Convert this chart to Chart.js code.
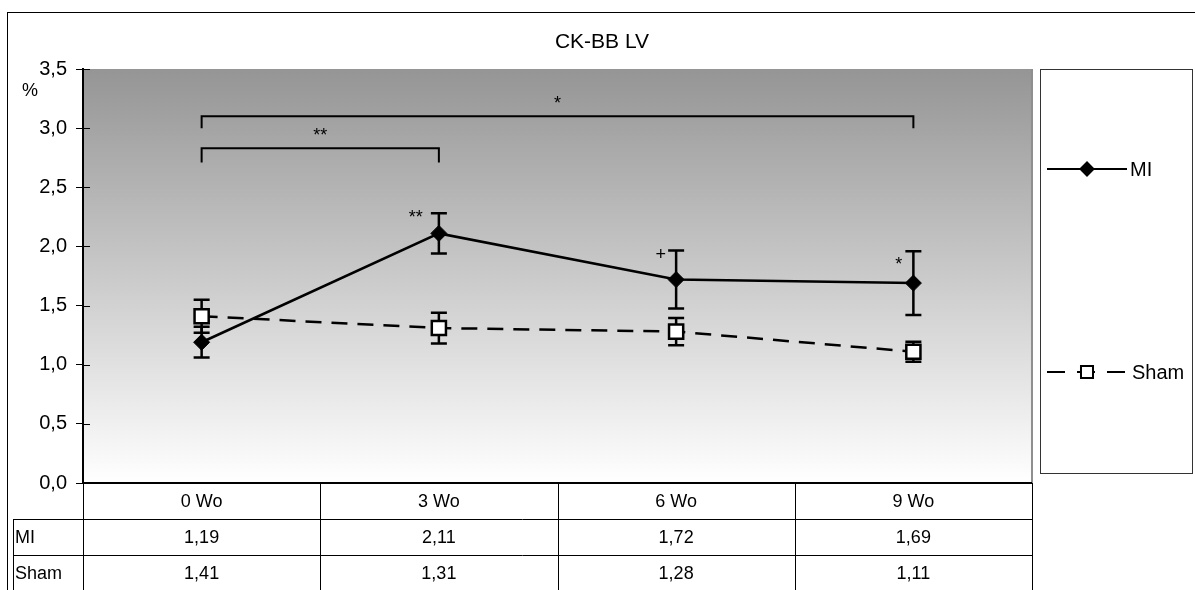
<!DOCTYPE html>
<html><head><meta charset="utf-8">
<script src="https://cdn.jsdelivr.net/npm/chart.js@4/dist/chart.umd.min.js"></script>
<style>html,body{margin:0;padding:0;background:#fff}canvas{display:block}</style>
</head><body>
<canvas id="c" width="1195" height="590"></canvas>
<script>
// ---- data ----
const chartTitle = 'CK-BB LV';
const yUnit = '%';
const categories = ['0 Wo', '3 Wo', '6 Wo', '9 Wo'];
const miValues = [1.19, 2.11, 1.72, 1.69];
const miErrors = [0.13, 0.17, 0.245, 0.27];
const shamValues = [1.41, 1.31, 1.28, 1.11];
const shamErrors = [0.14, 0.13, 0.115, 0.085];
const miSigLabels = ['', '**', '+', '*'];
const bracketFrom = [0, 0];
const bracketTo = [3, 1];
const bracketLevel = [3.10, 2.83];
const bracketFoot = [3.00, 2.71];
const bracketLabels = ['*', '**'];
const yTicks = [0, 0.5, 1, 1.5, 2, 2.5, 3, 3.5];

const FONT = '"Liberation Sans", Arial, sans-serif';
const fmt = (v, d) => v.toFixed(d).replace('.', ',');

const errData = [miErrors, shamErrors];

const decor = {
  id: 'decor',
  beforeDraw(chart) {
    const { ctx, chartArea: a } = chart;
    ctx.save();
    ctx.fillStyle = '#fff';
    ctx.fillRect(0, 0, chart.width, chart.height);
    ctx.strokeStyle = '#000';
    ctx.lineWidth = 1;
    ctx.strokeRect(7.5, 12.5, chart.width + 20, chart.height + 20);
    const g = ctx.createLinearGradient(0, a.top, 0, a.bottom);
    g.addColorStop(0, '#959595');
    g.addColorStop(1, '#ffffff');
    ctx.fillStyle = g;
    ctx.fillRect(a.left, a.top, a.right - a.left, a.bottom - a.top);
    ctx.strokeStyle = '#8f8f8f';
    ctx.lineWidth = 2;
    ctx.beginPath();
    ctx.moveTo(a.right, a.top); ctx.lineTo(a.right, a.bottom);
    ctx.stroke();
    ctx.restore();
  },
  beforeDatasetsDraw(chart) {
    const { ctx } = chart;
    const x = chart.scales.x, y = chart.scales.y;
    ctx.save();
    ctx.strokeStyle = '#000';
    ctx.lineWidth = 2.5;
    chart.data.datasets.forEach((ds, di) => {
      ds.data.forEach((v, i) => {
        const e = errData[di][i];
        const px = x.getPixelForValue(i);
        const yt = y.getPixelForValue(v + e), yb = y.getPixelForValue(v - e);
        ctx.beginPath();
        ctx.moveTo(px, yt); ctx.lineTo(px, yb);
        ctx.moveTo(px - 8, yt); ctx.lineTo(px + 8, yt);
        ctx.moveTo(px - 8, yb); ctx.lineTo(px + 8, yb);
        ctx.stroke();
      });
    });
    ctx.restore();
  },
  afterDraw(chart) {
    const { ctx, chartArea: a } = chart;
    const x = chart.scales.x, y = chart.scales.y;
    ctx.save();
    ctx.fillStyle = '#000';
    ctx.strokeStyle = '#000';
    // title
    ctx.font = '21px ' + FONT;
    ctx.textAlign = 'center';
    ctx.textBaseline = 'middle';
    ctx.fillText(chartTitle, 602, 42);
    // unit
    ctx.font = '18px ' + FONT;
    ctx.textAlign = 'left';
    ctx.fillText(yUnit, 22, 91);
    // inner tick parts
    ctx.lineWidth = 1;
    yTicks.forEach(t => {
      const py = Math.round(y.getPixelForValue(t)) + 0.5;
      ctx.beginPath(); ctx.moveTo(a.left, py); ctx.lineTo(a.left + 7, py); ctx.stroke();
    });
    // x axis line
    ctx.lineWidth = 2;
    ctx.beginPath(); ctx.moveTo(a.left, a.bottom); ctx.lineTo(a.right, a.bottom); ctx.stroke();
    // brackets
    ctx.lineWidth = 2;
    ctx.font = '18px ' + FONT;
    ctx.textAlign = 'center';
    ctx.textBaseline = 'middle';
    bracketFrom.forEach((f, k) => {
      const x1 = x.getPixelForValue(f), x2 = x.getPixelForValue(bracketTo[k]);
      const yl = y.getPixelForValue(bracketLevel[k]), yf = y.getPixelForValue(bracketFoot[k]);
      ctx.beginPath();
      ctx.moveTo(x1, yf); ctx.lineTo(x1, yl); ctx.lineTo(x2, yl); ctx.lineTo(x2, yf);
      ctx.stroke();
      ctx.fillText(bracketLabels[k], (x1 + x2) / 2, yl - 12);
    });
    // significance labels next to MI points
    const sigDx = [0, -16, -10, -11];
    const sigDy = [0, 5, 4, 14];
    ctx.textAlign = 'right';
    miSigLabels.forEach((s, i) => {
      if (!s) return;
      const px = x.getPixelForValue(i);
      const py = y.getPixelForValue(miValues[i] + miErrors[i]);
      ctx.fillText(s, px + sigDx[i], py + sigDy[i]);
    });
    // table
    const rowH = 36;
    const top = a.bottom;
    const colEdges = [];
    const step = (a.right - a.left) / categories.length;
    for (let i = 0; i <= categories.length; i++) colEdges.push(a.left + step * i);
    ctx.lineWidth = 1;
    ctx.strokeStyle = '#000';
    ctx.beginPath();
    colEdges.forEach(cx => { const xx = Math.round(cx) + 0.5; ctx.moveTo(xx, top); ctx.lineTo(xx, chart.height); });
    ctx.moveTo(13.5, top + rowH); ctx.lineTo(13.5, chart.height);
    ctx.moveTo(13, top + rowH + 0.5); ctx.lineTo(a.right, top + rowH + 0.5);
    ctx.moveTo(13, top + 2 * rowH + 0.5); ctx.lineTo(a.right, top + 2 * rowH + 0.5);
    ctx.stroke();
    ctx.font = '18px ' + FONT;
    ctx.textAlign = 'center';
    ctx.textBaseline = 'middle';
    categories.forEach((c, i) => {
      const cx = x.getPixelForValue(i);
      ctx.fillText(c, cx, top + rowH / 2 + 1);
      ctx.fillText(fmt(miValues[i], 2), cx, top + rowH * 1.5 + 1);
      ctx.fillText(fmt(shamValues[i], 2), cx, top + rowH * 2.5 + 1);
    });
    ctx.textAlign = 'left';
    ctx.fillText(chart.data.datasets[0].label, 15, top + rowH * 1.5 + 1);
    ctx.fillText(chart.data.datasets[1].label, 15, top + rowH * 2.5 + 1);
    // legend
    const lx = 1040.5, ly = 69.5, lw = 152, lh = 404;
    ctx.lineWidth = 1;
    ctx.strokeStyle = '#333';
    ctx.strokeRect(lx, ly, lw, lh);
    const items = [169, 372];
    chart.data.datasets.forEach((ds, di) => {
      const yy = items[di];
      ctx.strokeStyle = '#000';
      ctx.lineWidth = 2;
      ctx.setLineDash(di === 1 ? [18, 12] : []);
      ctx.beginPath(); ctx.moveTo(1047, yy); ctx.lineTo(1127, yy); ctx.stroke();
      ctx.setLineDash([]);
      ctx.fillStyle = ds.pointBackgroundColor;
      ctx.strokeStyle = '#000';
      Chart.helpers.drawPoint(ctx, {
        pointStyle: ds.pointStyle, radius: di === 0 ? 6.5 : 8.5, borderWidth: 2.5
      }, 1087, yy);
      ctx.fillStyle = '#000';
      ctx.font = '20px ' + FONT;
      ctx.fillText(ds.label, di === 0 ? 1130 : 1132, yy + 1);
    });
    ctx.restore();
  }
};

new Chart(document.getElementById('c'), {
  type: 'line',
  data: {
    labels: categories,
    datasets: [
      {
        label: 'MI', data: miValues,
        borderColor: '#000', borderWidth: 2.5,
        pointStyle: 'rectRot', pointRadius: 8, pointHoverRadius: 8,
        pointBackgroundColor: '#000', pointBorderColor: '#000', pointBorderWidth: 1
      },
      {
        label: 'Sham', data: shamValues,
        borderColor: '#000', borderWidth: 2.5, borderDash: [16, 10],
        pointStyle: 'rect', pointRadius: 10, pointHoverRadius: 10,
        pointBackgroundColor: '#fff', pointBorderColor: '#000', pointBorderWidth: 2.5
      }
    ]
  },
  options: {
    responsive: false,
    animation: false,
    events: [],
    layout: { padding: { left: 0, top: 69, right: 163, bottom: 107 } },
    plugins: { legend: { display: false }, title: { display: false }, tooltip: { enabled: false } },
    scales: {
      x: { display: false, offset: true, type: 'category' },
      y: {
        min: 0, max: 3.5,
        afterFit(s) { s.width = 83; },
        afterBuildTicks(s) { s.ticks = yTicks.map(v => ({ value: v })); },
        ticks: {
          font: { size: 20, family: FONT }, color: '#000', padding: 9,
          callback: v => fmt(v, 1)
        },
        grid: { drawOnChartArea: false, drawTicks: true, tickLength: 7, color: '#000', lineWidth: 1 },
        border: { color: '#000', width: 2 }
      }
    }
  },
  plugins: [decor]
});
</script>
</body></html>
